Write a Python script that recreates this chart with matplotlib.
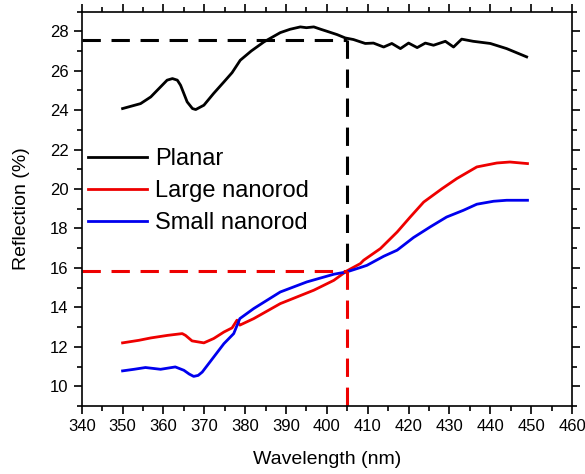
import matplotlib
matplotlib.use("Agg")
import matplotlib.pyplot as plt
from matplotlib.ticker import MultipleLocator

plt.rcParams['font.family'] = ['Liberation Sans', 'DejaVu Sans']

# Planar (black)
planar_x = [350, 354.4, 356.9, 359.3, 360.9, 362.2, 363.4, 364.2, 365, 365.8, 367.1, 367.9, 369.9,
            372.3, 374.8, 376.8, 378.8, 381.5,
            384.6, 388.6, 391, 393.5, 395, 396.8, 398.5, 400, 402.5, 404.5, 406.5, 409.4, 411.4,
            413.9, 415.9, 418, 420, 422.1, 424.1, 426.1, 429, 431, 433, 435.8, 440, 444, 448.9]
planar_y = [24.08, 24.33, 24.67, 25.18, 25.52, 25.6, 25.52, 25.26, 24.84, 24.42, 24.08, 24.03, 24.25,
            24.85, 25.43, 25.9, 26.53, 27.0,
            27.46, 27.93, 28.1, 28.22, 28.18, 28.22, 28.1, 28.0, 27.83, 27.66, 27.58, 27.38, 27.4,
            27.2, 27.38, 27.12, 27.4, 27.17, 27.4, 27.29, 27.49, 27.2, 27.6, 27.49, 27.38, 27.12, 26.7]

# Large nanorod (red)
large_x = [350, 354, 356.9, 361, 364.6, 365.4, 367, 369.9, 372.3, 374.8, 376.8, 378, 378.7, 382.1,
           388.6, 396.8, 401.7, 404.9, 408.2, 409, 413.1, 417.2, 420.4, 423.7, 428.2, 431.8,
           436.7, 441.6, 444.8, 449.1]
large_y = [12.2, 12.33, 12.45, 12.58, 12.67, 12.58, 12.3, 12.2, 12.42, 12.75, 12.96, 13.35, 13.1, 13.43,
           14.19, 14.87, 15.37, 15.85, 16.22, 16.39, 16.98, 17.82, 18.58, 19.34, 20.02, 20.53,
           21.12, 21.32, 21.37, 21.29]

# Small nanorod (blue)
small_x = [350, 352.8, 355.6, 359.3, 362.9, 365, 366.3, 367.4, 368.5, 369.5, 372.3, 374.8, 377.2, 378.7, 382.1,
           388.6, 395.1, 401.7, 404.9, 408.2, 409.8, 413.9, 417.2, 421.2, 425.3, 429.3, 433.4,
           436.7, 440.8, 444, 449.1]
small_y = [10.78, 10.86, 10.95, 10.86, 10.98, 10.81, 10.62, 10.5, 10.55, 10.72, 11.48, 12.16, 12.67, 13.43, 13.94,
           14.78, 15.29, 15.68, 15.8, 16.02, 16.13, 16.59, 16.9, 17.54, 18.08, 18.58, 18.92,
           19.23, 19.38, 19.43, 19.43]

mark_x = 405
planar_mark = 27.55
nanorod_mark = 15.85

fig = plt.figure(figsize=(5.85, 4.74), dpi=100)
ax = fig.add_axes([0.1397, 0.1435, 0.8381, 0.8322])

ax.plot(planar_x, planar_y, color='black', lw=2, label='Planar')
ax.plot(large_x, large_y, color='#ee0000', lw=2, label='Large nanorod')
ax.plot(small_x, small_y, color='#0000ee', lw=2, label='Small nanorod')

dash = (0, (6, 3.5))
ax.plot([340, mark_x], [planar_mark, planar_mark], color='black', lw=2.2, linestyle=dash)
ax.plot([mark_x, mark_x], [planar_mark, nanorod_mark], color='black', lw=2.2, linestyle=dash)
ax.plot([340, mark_x], [nanorod_mark, nanorod_mark], color='#ee0000', lw=2.2, linestyle=dash)
ax.plot([mark_x, mark_x], [nanorod_mark, 9], color='#ee0000', lw=2.2, linestyle=dash)

ax.set_xlim(340, 460)
ax.set_ylim(9, 29)
ax.xaxis.set_major_locator(MultipleLocator(10))
ax.xaxis.set_minor_locator(MultipleLocator(5))
ax.yaxis.set_major_locator(MultipleLocator(2))
ax.yaxis.set_minor_locator(MultipleLocator(1))
ax.tick_params(which='both', direction='out', top=True, right=True, labeltop=False, labelright=False,
               width=1.2, labelsize=12)
ax.tick_params(which='major', length=6)
ax.tick_params(which='minor', length=3.5)
for s in ax.spines.values():
    s.set_linewidth(1.2)

ax.set_xlabel('Wavelength (nm)', fontsize=14, labelpad=12)
ax.set_ylabel('Reflection (%)', fontsize=14, labelpad=14)

ax.legend(loc='upper left', bbox_to_anchor=(0.0, 0.669), frameon=False, fontsize=17,
          handlelength=2.5, handletextpad=0.35, labelspacing=0.42, borderaxespad=0.0, borderpad=0.27)

fig.savefig('out.png', dpi=100)
